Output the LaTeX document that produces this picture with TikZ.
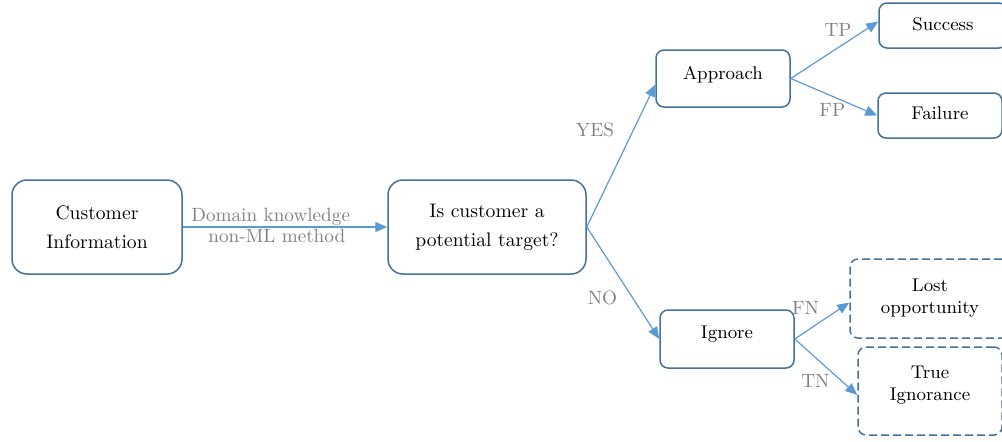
\documentclass[tikz,border=0pt]{standalone}
\usepackage{fontspec}
\usetikzlibrary{arrows.meta}
\definecolor{boxblue}{HTML}{41719C}
\definecolor{lineblue}{HTML}{5B9BD5}
\definecolor{lblgray}{HTML}{808080}
\tikzset{
    box/.style={ % Rounded boxes of the tree
        draw=boxblue,
        line width=0.75pt,
        rounded corners=4pt,
        align=center,
        inner sep=0pt,
        font=\fontsize{9.2}{11}\selectfont
    },
    bigbox/.style={box, rounded corners=7.5pt, font=\fontsize{9.8}{14.5}\selectfont},
    dashbox/.style={box, dash pattern=on 4pt off 2pt}, % Outcomes that are missed
    flow/.style={ % Arrows between the boxes
        draw=lineblue,
        line width=0.6pt,
        -{Triangle[length=6pt,width=5pt]}
    },
    lbl/.style={text=lblgray, font=\fontsize{9.6}{12}\selectfont},
}

\begin{document}
\begin{tikzpicture}[x=0.5pt, y=-0.5pt]
            \useasboundingbox (0,0) rectangle (1002,441);
            \node[bigbox, minimum width=85pt, minimum height=47pt]   (cust)     at (97,227)    {Customer\\Information};
            \node[bigbox, minimum width=99pt, minimum height=47pt]   (target)   at (487,227)   {Is customer a\\potential target?};
            \node[box, minimum width=67pt, minimum height=28.5pt]    (approach) at (723,78.5)  {Approach\\[-5pt]};
            \node[box, minimum width=67pt, minimum height=29pt]      (ignore)   at (727,339)   {Ignore\\[-4pt]};
            \node[box, minimum width=64pt, minimum height=22.5pt]    (success)  at (943,25.5)  {Success\vphantom{g}};
            \node[box, minimum width=62pt, minimum height=22.5pt]    (failure)  at (940,115.5) {Failure\vphantom{g}};
            \node[dashbox, minimum width=80pt, minimum height=39.5pt] (lost)    at (930,298.5) {Lost\\opportunity};
            \node[dashbox, minimum width=72pt, minimum height=44pt]  (trueign)  at (930,391)   {True\\Ignorance\\[-3pt]};

            \draw[flow] (cust.east) --
                    node[lbl, pos=0.43, above, inner sep=0.5pt]{Domain knowledge}
                    node[lbl, pos=0.46, below, inner sep=1pt]{non-ML method}
                    (target.west);
            \draw[flow] (target.east) -- node[lbl, pos=0.68, left=6pt]{YES} ([yshift=-3pt]approach.west);
            \draw[flow] (target.east) -- node[lbl, pos=0.63, left=4pt]{NO}  (ignore.west);
            \draw[flow] (approach.east) -- node[lbl, pos=0.54, above=2pt]{TP} ([yshift=2pt]success.west);
            \draw[flow] (approach.east) -- node[lbl, pos=0.48, below=0pt]{FP} (failure.west);
            \draw[flow] (ignore.east) -- node[lbl, pos=0.2, above=5pt]{FN}  ([yshift=-2pt]lost.west);
            \draw[flow] (ignore.east) -- node[lbl, pos=0.33, below=5pt]{TN} ([yshift=-2pt]trueign.west);
        \end{tikzpicture}
\end{document}
